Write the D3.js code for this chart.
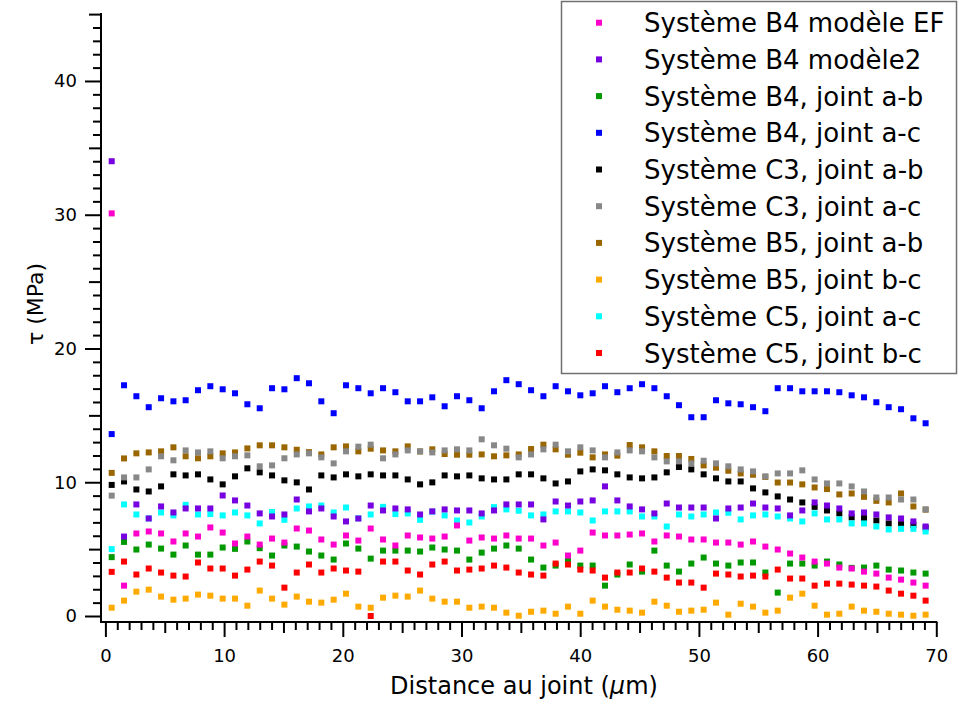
<!DOCTYPE html>
<html><head><meta charset="utf-8">
<script src="https://cdn.jsdelivr.net/npm/d3@7"></script>
<style>body{margin:0;background:#fff}svg{display:block}</style>
</head><body>
<svg id="c" width="959" height="705"></svg>
<script>
// ---- data ----
const distance = [0.53,1.57,2.61,3.65,4.69,5.73,6.76,7.80,8.84,9.88,10.92,11.96,13.00,14.04,15.08,16.12,17.15,18.19,19.23,20.27,21.31,22.35,23.39,24.43,25.47,26.51,27.54,28.58,29.62,30.66,31.70,32.74,33.78,34.82,35.86,36.90,37.93,38.97,40.01,41.05,42.09,43.13,44.17,45.21,46.25,47.29,48.32,49.36,50.40,51.44,52.48,53.52,54.56,55.60,56.64,57.68,58.71,59.75,60.79,61.83,62.87,63.91,64.95,65.99,67.03,68.07,69.10];

const b4ModeleEF = [30.1,2.27,6.17,6.32,6.17,5.57,6.17,5.94,6.62,6.24,5.42,5.94,5.34,5.79,5.49,6.54,6.39,5.72,5.34,6.02,5.64,6.54,5.72,5.27,6.02,5.87,5.79,5.94,6.77,5.64,5.87,5.79,6.02,5.79,5.79,5.27,5.49,4.52,4.89,6.24,6.02,6.02,6.09,6.17,5.57,6.02,5.94,5.72,5.72,5.49,5.49,5.34,5.57,5.19,4.97,4.67,4.37,4.07,3.92,3.62,3.55,3.32,3.17,2.87,2.72,2.50,2.27];
const b4Modele2 = [34.0,5.94,8.34,7.29,8.19,7.74,8.04,8.04,8.04,9.01,8.64,8.26,7.67,7.44,7.59,8.71,7.82,8.04,7.44,7.07,7.29,8.26,7.89,8.04,7.97,7.59,7.82,7.97,7.89,7.89,7.67,7.89,8.34,8.34,8.34,7.22,8.56,8.26,8.56,8.64,9.69,8.64,8.19,7.97,7.67,8.41,8.11,8.11,8.11,7.29,8.04,8.11,8.41,8.11,8.04,7.52,7.89,8.49,8.26,8.04,7.67,7.74,7.59,7.37,7.29,7.07,6.69];
const b4JointAB = [4.4,5.54,4.97,5.34,5.04,4.59,5.27,4.59,4.59,5.12,5.02,5.57,5.07,4.52,5.27,5.19,4.82,4.52,4.22,5.42,5.04,4.29,4.89,4.89,4.89,4.82,5.12,4.97,4.89,4.22,4.74,5.04,5.27,5.04,4.22,3.62,3.77,4.19,3.77,3.77,2.27,3.10,3.85,3.32,4.89,3.77,3.32,3.92,4.37,3.92,3.77,4.0,4.0,3.25,1.75,3.92,3.92,3.77,4.07,3.85,3.6,3.62,3.77,3.47,3.40,3.25,3.17];
const b4JointAC = [13.6,17.25,16.43,15.61,16.28,16.05,16.13,16.88,17.18,16.95,16.65,15.83,15.53,17.03,16.95,17.78,17.40,16.05,15.16,17.25,17.03,16.65,17.03,16.73,16.05,16.05,16.35,15.68,16.43,16.13,15.53,16.80,17.63,17.33,16.88,16.43,17.18,16.80,16.50,16.65,17.18,16.73,17.03,17.33,17.03,16.43,15.76,14.86,14.86,16.13,15.90,15.83,15.61,15.31,17.03,17.03,16.80,16.80,16.80,16.73,16.50,16.35,15.98,15.61,15.46,14.78,14.41];
const c3JointAB = [9.8,10.06,9.46,9.31,9.69,10.59,10.51,10.59,10.21,9.84,10.44,11.04,10.74,10.51,10.14,9.99,9.46,10.51,10.36,10.59,10.44,10.59,10.51,10.51,10.21,9.84,9.99,10.51,10.44,10.51,10.29,10.21,10.21,10.59,10.59,10.29,9.91,10.06,10.81,10.96,10.89,10.59,10.36,10.29,10.36,10.74,11.14,10.96,10.59,10.29,10.06,10.06,9.54,9.24,8.94,8.71,8.49,8.16,7.89,7.67,7.37,7.32,7.14,6.92,6.87,6.79,6.6];
const c3JointAC = [9.0,10.36,10.36,10.96,11.94,11.64,12.38,12.23,12.31,11.79,11.94,12.01,11.19,11.26,11.79,12.08,12.16,11.86,11.41,12.31,12.66,12.81,11.79,12.08,12.38,12.31,12.23,12.38,12.46,12.38,13.21,12.76,12.51,11.86,12.08,12.46,12.81,12.31,12.61,12.38,11.86,12.23,12.38,12.31,11.86,11.56,11.56,11.41,11.61,11.41,11.19,10.96,10.81,10.44,10.66,10.66,10.89,10.21,9.91,9.91,9.69,9.31,8.86,8.86,8.71,8.71,7.97];
const b5JointAB = [10.7,11.78,12.16,12.23,12.31,12.61,11.94,11.79,11.94,12.16,12.23,12.53,12.76,12.76,12.61,12.43,12.25,12.08,12.61,12.68,12.31,12.51,12.38,12.31,12.68,12.3,12.46,12.11,12.06,12.06,12.08,11.94,12.01,12.08,12.48,12.81,12.46,12.06,12.21,11.86,12.08,11.99,12.78,12.61,12.31,11.96,11.96,11.74,11.26,11.09,10.86,10.66,10.56,10.4,9.98,9.98,9.84,9.61,9.49,9.09,9.16,8.91,8.61,8.49,9.16,8.19,7.95];
const b5JointBC = [0.62,1.15,1.82,1.97,1.45,1.22,1.30,1.60,1.52,1.30,1.30,0.77,1.90,1.30,0.85,1.45,1.07,1.0,1.22,1.67,0.70,0.62,1.37,1.52,1.45,1.90,1.30,1.07,1.07,0.62,0.70,0.62,0.25,0.02,0.32,0.40,0.17,0.70,0.17,1.15,0.70,0.47,0.40,0.25,1.07,0.77,0.32,0.40,0.47,1.0,0.10,0.92,0.70,0.25,0.40,1.37,1.67,0.77,0.10,0.17,0.70,0.40,0.32,0.17,0.10,0.02,0.10];
const c5JointAC = [5.0,8.34,7.59,7.3,7.74,7.52,8.31,7.59,7.62,7.52,7.74,7.52,6.92,7.77,7.19,8.04,8.19,8.26,7.74,8.11,7.3,7.59,8.16,7.62,7.67,7.19,7.8,7.52,7.14,6.99,7.44,8.14,7.97,7.87,7.52,7.59,7.82,7.82,7.74,7.14,7.82,7.82,7.82,7.44,7.44,6.69,7.59,7.44,7.59,7.74,7.72,7.22,7.52,7.59,7.44,7.29,7.07,7.67,7.22,7.22,6.92,6.92,6.69,6.47,6.52,6.52,6.32];
const c5JointBC = [3.3,4.07,3.10,3.55,3.25,3.02,2.95,4.0,3.55,3.55,3.02,3.47,4.07,3.77,2.12,3.25,3.85,3.25,3.55,3.40,3.32,0.0,4.07,4.07,3.40,3.10,3.85,4.07,3.40,3.47,3.55,3.77,3.62,3.25,3.10,3.02,3.92,3.85,3.47,3.40,2.87,3.25,3.25,3.55,3.32,2.87,2.50,2.50,2.12,3.17,3.10,2.95,3.02,2.95,3.47,2.80,2.80,2.27,2.42,2.42,2.35,2.27,2.20,1.90,1.67,1.52,1.15];

const legendLabels = ["Système B4 modèle EF","Système B4 modèle2","Système B4, joint a-b","Système B4, joint a-c","Système C3, joint a-b","Système C3, joint a-c","Système B5, joint a-b","Système B5, joint b-c","Système C5, joint a-c","Système C5, joint b-c"];
const seriesColors = ["#ff00cc","#7700e0","#009900","#0000ff","#000000","#888888","#996600","#ffaa00","#00ffff","#ff0000"];
const xTicks = [0,10,20,30,40,50,60,70];
const yTicks = [0,10,20,30,40];
const xTitleParts = ["Distance au joint (", "µ", "m)"];
const yTitle = "τ (MPa)";

// ---- chart ----
const seriesValues = [b4ModeleEF,b4Modele2,b4JointAB,b4JointAC,c3JointAB,c3JointAC,b5JointAB,b5JointBC,c5JointAC,c5JointBC];
const drawOrder = [2,3,4,6,5,7,8,9,0,1];

const svg = d3.select("#c");
const font = "DejaVu Sans, Verdana, sans-serif";
const x = d3.scaleLinear().domain([0,70]).range([105.4,936.3]);
const y = d3.scaleLinear().domain([0,45]).range([616,14.1]);
const axisY0 = 622, axisX0 = 101;

function styleAxis(g){
  g.select(".domain").remove();
  g.selectAll(".tick line").attr("stroke","#000").attr("stroke-width",2);
  g.selectAll(".tick text").attr("fill","#000").attr("font-family",font);
}

// x axis ticks
const allX = d3.range(0,71);
svg.append("g").attr("transform",`translate(0,${axisY0})`)
  .call(d3.axisBottom(x).tickValues(allX.filter(v=>v%5!==0)).tickSize(8).tickFormat(""))
  .call(styleAxis);
svg.append("g").attr("transform",`translate(0,${axisY0})`)
  .call(d3.axisBottom(x).tickValues(allX.filter(v=>v%5===0&&v%10!==0)).tickSize(11).tickFormat(""))
  .call(styleAxis);
svg.append("g").attr("transform",`translate(0,${axisY0})`)
  .call(d3.axisBottom(x).tickValues(xTicks).tickSize(15).tickPadding(12).tickFormat(d3.format("d")))
  .call(styleAxis)
  .call(g=>g.selectAll(".tick text").attr("font-size",18));

// y axis ticks
const allY = d3.range(0,46);
svg.append("g").attr("transform",`translate(${axisX0},0)`)
  .call(d3.axisLeft(y).tickValues(allY.filter(v=>v%5!==0)).tickSize(8).tickFormat(""))
  .call(styleAxis);
svg.append("g").attr("transform",`translate(${axisX0},0)`)
  .call(d3.axisLeft(y).tickValues(allY.filter(v=>v%5===0&&v%10!==0)).tickSize(12).tickFormat(""))
  .call(styleAxis);
svg.append("g").attr("transform",`translate(${axisX0},0)`)
  .call(d3.axisLeft(y).tickValues(yTicks).tickSize(16).tickPadding(8).tickFormat(d3.format("d")))
  .call(styleAxis)
  .call(g=>g.selectAll(".tick text").attr("font-size",18));

// axis lines
svg.append("line").attr("x1",axisX0).attr("x2",axisX0).attr("y1",y(45)-1).attr("y2",axisY0+1)
  .attr("stroke","#000").attr("stroke-width",2);
svg.append("line").attr("x1",axisX0-1).attr("x2",x(70)+1).attr("y1",axisY0).attr("y2",axisY0)
  .attr("stroke","#000").attr("stroke-width",2);

// titles
const xt = svg.append("text").attr("x",524).attr("y",694).attr("text-anchor","middle")
  .attr("font-family",font).attr("font-size",24).attr("fill","#000");
xt.append("tspan").text(xTitleParts[0]);
xt.append("tspan").attr("font-style","italic").text(xTitleParts[1]);
xt.append("tspan").text(xTitleParts[2]);
svg.append("text").attr("transform","translate(43,304) rotate(-90)").attr("text-anchor","middle")
  .attr("font-family",font).attr("font-size",22).attr("fill","#000").text(yTitle);

// points
const ms = 6;
drawOrder.forEach(si=>{
  svg.append("g").selectAll("rect").data(seriesValues[si]).join("rect")
    .attr("x",(d,i)=>x(distance[i])-ms/2).attr("y",d=>y(d)-ms/2)
    .attr("width",ms).attr("height",ms).attr("fill",seriesColors[si]);
});

// legend
const lg = svg.append("g");
lg.append("rect").attr("x",561.5).attr("y",1.5).attr("width",395).attr("height",372)
  .attr("fill","#fff").attr("stroke","#707070").attr("stroke-width",1.5);
legendLabels.forEach((lab,k)=>{
  const cy = 22.7 + 36.7*k;
  lg.append("rect").attr("x",599-ms/2).attr("y",cy-ms/2).attr("width",ms).attr("height",ms).attr("fill",seriesColors[k]);
  lg.append("text").attr("x",644).attr("y",cy+9.5).attr("font-family",font).attr("font-size",26)
    .attr("fill","#000").text(lab);
});
</script>
</body></html>
